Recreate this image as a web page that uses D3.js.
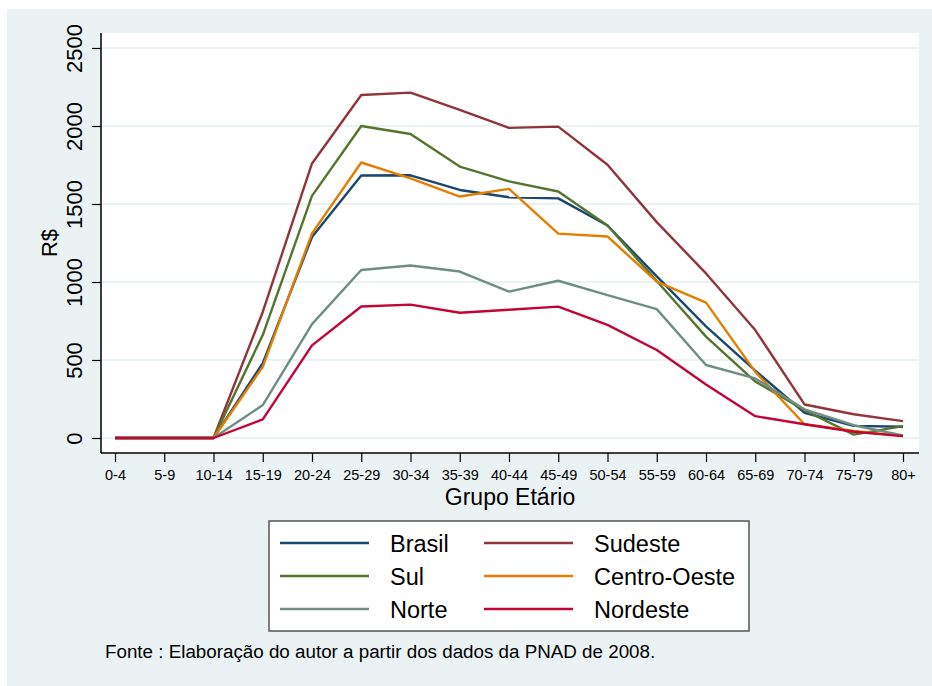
<!DOCTYPE html>
<html>
<head>
<meta charset="utf-8">
<script src="https://cdnjs.cloudflare.com/ajax/libs/d3/7.8.5/d3.min.js"></script>
<style>
    body { margin: 0; background: #ffffff; }
    text { font-family: "Liberation Sans", Arial, sans-serif; fill: #000; }
</style>
</head>
<body>
<div id="chart"></div>
<script>
// 0.data
var ageGroups = ["0-4","5-9","10-14","15-19","20-24","25-29","30-34","35-39","40-44",
                 "45-49","50-54","55-59","60-64","65-69","70-74","75-79","80+"];
var yTicks = [0, 500, 1000, 1500, 2000, 2500];

var brasil      = [0,0,0, 480,1288,1683,1684,1590,1543,1536,1362,1036,716,432,162,78,72];
var sudeste     = [0,0,0, 808,1760,2199,2214,2103,1988,1996,1752,1384,1055,692,215,152,108];
var sul         = [0,0,0, 660,1552,2000,1949,1740,1645,1580,1362,1006,650,362,178,22,76];
var centroOeste = [0,0,0, 456,1312,1766,1664,1548,1597,1310,1292,1002,868,424,88,45,12];
var norte       = [0,0,0, 211,730,1077,1106,1067,938,1008,916,826,468,382,184,82,16];
var nordeste    = [0,0,0, 119,594,843,855,803,822,842,725,564,343,140,88,40,12];

var seriesNames = ["Brasil","Sudeste","Sul","Centro-Oeste","Norte","Nordeste"];
var seriesData  = [brasil, sudeste, sul, centroOeste, norte, nordeste];

// 0.1.size
var svgBGW = 932;
var svgBGH = 686;
var plot = {left: 101, right: 919, top: 33, bottom: 453};

// 0.2.color
var bgColor = "#eaf2f3";
var color = d3.scaleOrdinal()
    .domain(seriesNames)
    .range(["#1a476f","#90353b","#55752f","#e37e00","#6e8e84","#c10534"]);

// 1.scales
var xScale = d3.scalePoint()
    .domain(ageGroups)
    .range([115, 903]);

var yScale = d3.scaleLinear()
    .domain([0, 2500])
    .range([438, 48]);

// 2.Add DOM elements
var svgBG = d3.select("#chart").append("svg")
    .attr("width", svgBGW)
    .attr("height", svgBGH);

svgBG.append("rect")
    .attr("x", 7).attr("y", 9)
    .attr("width", svgBGW - 7).attr("height", svgBGH - 9)
    .attr("fill", bgColor);

svgBG.append("rect")
    .attr("x", plot.left).attr("y", plot.top)
    .attr("width", plot.right - plot.left).attr("height", plot.bottom - plot.top)
    .attr("fill", "#ffffff");

// gridlines
svgBG.append("g")
    .selectAll("line")
    .data(yTicks)
    .enter().append("line")
    .attr("x1", plot.left).attr("x2", plot.right)
    .attr("y1", function(d) { return yScale(d); })
    .attr("y2", function(d) { return yScale(d); })
    .attr("stroke", bgColor)
    .attr("stroke-width", 2);

// y axis
var svgAxisY = svgBG.append("g")
    .attr("transform", "translate(" + plot.left + ",0)")
    .call(d3.axisLeft(yScale).tickValues(yTicks).tickSize(9).tickFormat(d3.format("d")));
svgAxisY.select(".domain")
    .attr("d", "M0," + plot.top + "V" + plot.bottom)
    .attr("stroke", "#000").attr("stroke-width", 1.5);
svgAxisY.selectAll(".tick line").attr("stroke", "#000").attr("stroke-width", 1.2);
svgAxisY.selectAll(".tick text")
    .attr("x", null).attr("dy", null)
    .attr("transform", "translate(-19,0) rotate(-90)")
    .attr("text-anchor", "middle")
    .style("font-family", "Liberation Sans, Arial, sans-serif")
    .style("font-size", "22px")
    .attr("fill", "#000");

// x axis
var svgAxisX = svgBG.append("g")
    .attr("transform", "translate(0," + plot.bottom + ")")
    .call(d3.axisBottom(xScale).tickSize(9));
svgAxisX.select(".domain")
    .attr("d", "M" + plot.left + ",0H" + plot.right)
    .attr("stroke", "#000").attr("stroke-width", 1.5);
svgAxisX.selectAll(".tick line").attr("stroke", "#000").attr("stroke-width", 1.2);
svgAxisX.selectAll(".tick text")
    .attr("y", 27).attr("dy", null)
    .style("font-family", "Liberation Sans, Arial, sans-serif")
    .style("font-size", "14.5px")
    .attr("fill", "#000");

// axis titles
svgBG.append("text")
    .attr("x", (plot.left + plot.right) / 2)
    .attr("y", 505)
    .attr("text-anchor", "middle")
    .style("font-size", "23px")
    .text("Grupo Etário");

svgBG.append("text")
    .attr("transform", "translate(57," + ((plot.top + plot.bottom) / 2) + ") rotate(-90)")
    .attr("text-anchor", "middle")
    .style("font-size", "22px")
    .text("R$");

// 3.lines
var line = d3.line()
    .x(function(d, i) { return xScale(ageGroups[i]); })
    .y(function(d) { return yScale(d); });

svgBG.append("g")
    .selectAll("path")
    .data(seriesData)
    .enter().append("path")
    .attr("d", function(d) { return line(d); })
    .attr("fill", "none")
    .attr("stroke", function(d, i) { return color(seriesNames[i]); })
    .attr("stroke-width", 2.4)
    .attr("stroke-linejoin", "round");

// 4.legend
svgBG.append("rect")
    .attr("x", 269).attr("y", 521)
    .attr("width", 480).attr("height", 110)
    .attr("fill", "#ffffff")
    .attr("stroke", "#555")
    .attr("stroke-width", 1.5);

var legend = svgBG.append("g")
    .selectAll("g")
    .data(seriesNames)
    .enter().append("g")
    .attr("transform", function(d, i) {
        return "translate(" + (i % 2 == 0 ? 280 : 484) + "," + (543 + Math.floor(i / 2) * 33) + ")";
    });

legend.append("line")
    .attr("x1", 0).attr("x2", 89)
    .attr("stroke", function(d) { return color(d); })
    .attr("stroke-width", 2.4);

legend.append("text")
    .attr("x", 110)
    .attr("y", 9)
    .style("font-size", "23.5px")
    .text(function(d) { return d; });

// 5.note
svgBG.append("text")
    .attr("x", 105)
    .attr("y", 658)
    .style("font-size", "18.8px")
    .text("Fonte : Elaboração do autor a partir dos dados da PNAD de 2008.");
</script>
</body>
</html>
